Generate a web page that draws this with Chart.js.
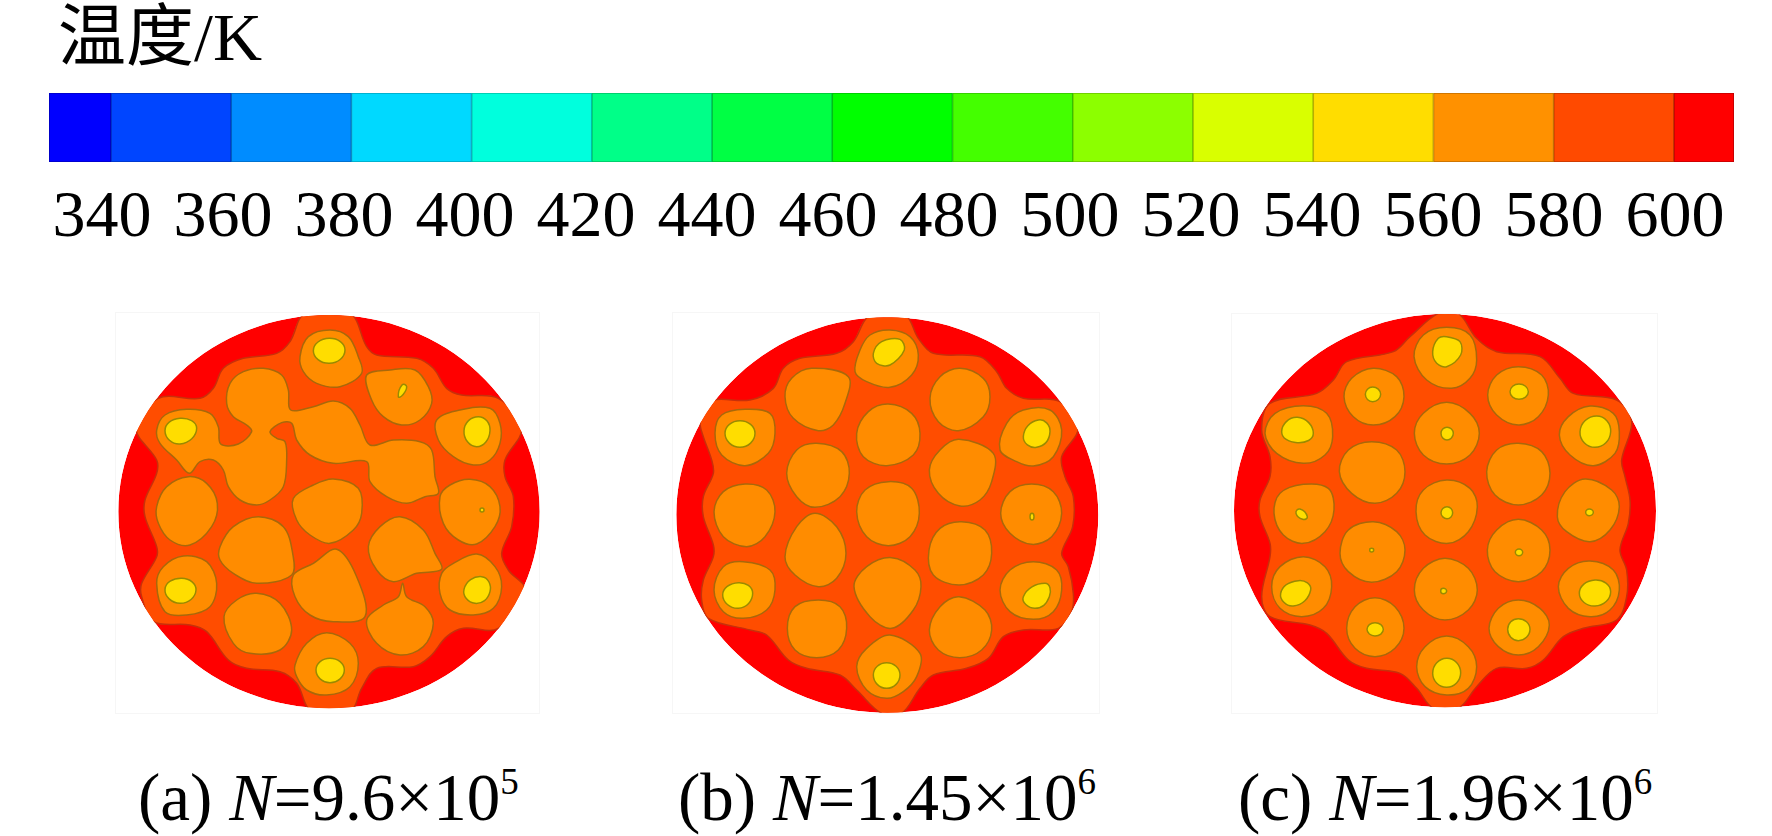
<!DOCTYPE html>
<html>
<head>
<meta charset="utf-8">
<title>温度/K</title>
<script src="https://cdn.jsdelivr.net/npm/chart.js@4"></script>
<style>
  html, body { margin: 0; background: #fff; overflow: hidden; }
  body { width: 1772px; height: 836px; position: relative; }
  canvas { position: absolute; filter: blur(0.7px); }
  .frame { position: absolute; border: 1px solid #f6f6f6; box-sizing: border-box; }
  .txt { position: absolute; font-family: "Liberation Serif", "Noto Sans CJK SC", serif; line-height: 64px; white-space: nowrap; color: #000; }
  .cap { font-size: 67px; top: 765px; }
  .cap sup { font-size: 37px; line-height: 0; vertical-align: 26px; }
  #title { left: 58px; top: 5px; font-size: 68px; }
  #capA { left: 138px; }
  #capB { left: 678px; }
  #capC { left: 1238px; }
</style>
</head>
<body>
<div class="txt" id="title">温度/K</div>
<div class="frame" style="left:115px;top:312px;width:425px;height:402px"></div>
<div class="frame" style="left:672px;top:312px;width:428px;height:402px"></div>
<div class="frame" style="left:1231px;top:313px;width:427px;height:401px"></div>
<canvas id="bar" width="1772" height="180" style="left:0;top:80px"></canvas>
<canvas id="panelA" width="460" height="420" style="left:100px;top:300px"></canvas>
<canvas id="panelB" width="460" height="420" style="left:660px;top:300px"></canvas>
<canvas id="panelC" width="460" height="420" style="left:1220px;top:300px"></canvas>
<div class="txt cap" id="capA">(a) <i>N</i>=9.6×10<sup>5</sup></div>
<div class="txt cap" id="capB">(b) <i>N</i>=1.45×10<sup>6</sup></div>
<div class="txt cap" id="capC">(c) <i>N</i>=1.96×10<sup>6</sup></div>
<script>
// colour bar
const tickValues = [340, 360, 380, 400, 420, 440, 460, 480, 500, 520, 540, 560, 580, 600];
const binEdges = [329.7, 340, 360, 380, 400, 420, 440, 460, 480, 500, 520, 540, 560, 580, 600, 610];
const binColors = ['#0000ff', '#0045ff', '#008cff', '#00d9ff', '#00ffdd', '#00ff88', '#00ff44', '#00ff00',
  '#44ff00', '#8cff00', '#d9ff00', '#ffdd00', '#ff9100', '#ff4a00', '#ff0000'];
const binLines = ['#0000c0', '#0034c0', '#006ac0', '#00a4c0', '#00c0a6', '#00c066', '#00c034', '#00c000',
  '#34c000', '#6ac000', '#a4c000', '#c0a600', '#c06e00', '#c03800', '#c00000'];

// panel contours, units are 1/3 px of the panel
const discA = [[687,45],[929,90],[1134,218],[1271,409],[1319,635],[1271,861],[1134,1052],[929,1180],[687,1225],[445,1180],[240,1052],[103,861],[55,635],[103,409],[240,218],[445,90]];
const starA = [[615,40],[750,40],[800,140],[830,165],[950,175],[1000,205],[1040,265],[1085,285],[1195,295],[1265,385],[1215,480],[1215,530],[1240,590],[1235,680],[1205,760],[1225,810],[1275,870],[1195,985],[1090,985],[1040,1010],[990,1070],[940,1100],[830,1105],[785,1165],[750,1235],[635,1235],[590,1150],[540,1115],[440,1105],[385,1080],[320,995],[270,975],[160,965],[125,890],[125,850],[170,770],[170,740],[135,650],[135,600],[170,520],[170,480],[108,385],[175,295],[300,295],[340,265],[370,205],[430,175],[530,160],[570,125]];
const rodsA = [
  [[170,390],[195,345],[260,328],[330,340],[355,380],[362,432],[415,432],[455,395],[440,375],[400,350],[380,310],[390,250],[430,215],[490,205],[545,225],[565,270],[572,330],[640,320],[700,303],[750,325],[780,375],[810,435],[880,420],[960,425],[995,450],[1005,530],[1015,580],[975,590],[920,610],[860,590],[810,545],[800,485],[700,490],[630,465],[590,420],[575,370],[545,368],[510,395],[530,415],[555,425],[560,480],[550,560],[510,600],[470,615],[420,600],[385,560],[370,510],[340,480],[300,485],[268,520],[230,480],[180,430]],
  [[600,170],[625,110],[690,90],[745,110],[775,170],[785,220],[720,260],[650,250],[610,215]],
  [[800,225],[870,210],[945,210],[985,260],[995,310],[960,360],[905,375],[850,350],[815,300]],
  [[1010,360],[1080,330],[1170,325],[1200,370],[1200,430],[1170,480],[1120,495],[1060,470],[1015,420]],
  [[1020,590],[1050,555],[1110,538],[1170,560],[1200,620],[1185,680],[1130,732],[1075,720],[1030,670]],
  [[170,620],[200,560],[265,530],[320,550],[352,610],[335,680],[270,735],[210,720],[175,670]],
  [[580,595],[640,555],[700,537],[775,565],[785,640],[760,690],[690,730],[630,705],[590,660]],
  [[360,740],[400,680],[475,650],[550,680],[578,760],[575,825],[470,850],[400,820],[360,780]],
  [[805,740],[840,680],[900,650],[970,690],[1005,760],[1025,808],[950,820],[880,845],[830,810]],
  [[580,825],[640,790],[710,748],[770,830],[795,950],[700,965],[630,945],[585,890]],
  [[170,850],[190,800],[250,768],[320,785],[350,850],[330,920],[260,945],[195,935]],
  [[1025,820],[1060,790],[1130,762],[1185,800],[1205,860],[1180,925],[1120,945],[1050,930],[1020,880]],
  [[372,950],[410,900],[470,880],[540,910],[575,990],[540,1050],[450,1060],[400,1030]],
  [[800,960],[850,915],[895,890],[908,850],[920,890],[975,920],[1000,970],[970,1040],[900,1065],[830,1030]],
  [[585,1095],[620,1030],[680,998],[750,1030],[775,1090],[750,1160],[680,1185],[620,1170],[590,1130]]
];
const coresA = [
  [[640,152],[688,115],[735,150],[688,190]],
  [[195,392],[240,355],[290,385],[240,432]],
  [[1092,392],[1135,350],[1170,392],[1130,440]],
  [[195,868],[245,835],[288,870],[240,910]],
  [[1092,868],[1145,830],[1170,875],[1125,910]],
  [[648,1110],[690,1075],[733,1110],[690,1148]],
  [[895,290],[906,255],[920,260],[908,285]],
  [[1140,630],[1146,624],[1152,630],[1146,636]]
];

const discB = [[682,52],[924,97],[1130,226],[1267,418],[1315,645],[1267,872],[1130,1064],[924,1193],[682,1238],[440,1193],[234,1064],[97,872],[49,645],[97,418],[234,226],[440,97]];
const starB = [[630,45],[735,45],[775,115],[820,160],[960,170],[1010,215],[1040,265],[1090,295],[1200,305],[1255,385],[1205,470],[1215,530],[1240,590],[1238,680],[1205,760],[1225,800],[1240,880],[1235,935],[1195,985],[1090,990],[1030,1010],[985,1075],[920,1105],[820,1125],[780,1165],[725,1240],[665,1240],[590,1170],[540,1125],[440,1105],[385,1080],[320,1005],[270,990],[145,955],[125,900],[130,840],[160,770],[160,735],[130,650],[130,590],[160,520],[155,480],[130,410],[120,370],[130,330],[160,300],[270,300],[340,265],[370,205],[420,175],[530,160],[580,125]];
const rodsB = [
  [[585,215],[600,150],[630,105],[690,90],[750,110],[775,165],[755,225],[690,262],[620,245]],
  [[375,290],[395,235],[455,205],[565,230],[555,310],[520,375],[475,392],[400,355]],
  [[810,295],[840,230],[900,205],[970,235],[990,290],[970,350],[895,392],[835,365]],
  [[590,400],[625,335],[685,312],[755,340],[780,400],[760,465],[680,497],[610,470]],
  [[165,400],[185,345],[255,328],[330,340],[345,400],[325,460],[255,497],[185,465]],
  [[1020,450],[1040,370],[1090,330],[1170,330],[1205,390],[1180,470],[1120,498],[1070,485]],
  [[380,520],[410,450],[470,430],[545,455],[568,520],[540,590],[465,622],[410,590]],
  [[808,510],[840,450],[897,418],[1000,460],[995,545],[960,600],[900,618],[835,580]],
  [[162,635],[190,575],[255,552],[320,570],[345,635],[315,710],[260,740],[190,710]],
  [[590,635],[615,570],[685,545],[755,565],[778,640],[750,710],[685,737],[620,710]],
  [[1022,640],[1050,575],[1115,552],[1180,575],[1205,640],[1175,710],[1115,733],[1050,700]],
  [[375,770],[410,680],[465,640],[530,680],[558,760],[530,835],[475,860],[405,825]],
  [[807,750],[840,685],[905,665],[975,690],[995,760],[970,825],[897,855],[820,825]],
  [[582,860],[620,800],[695,773],[765,810],[783,860],[760,930],[695,985],[630,950]],
  [[162,870],[190,800],[250,785],[330,810],[345,870],[320,930],[250,955],[190,935]],
  [[1020,870],[1050,810],[1120,785],[1190,810],[1205,870],[1180,935],[1120,958],[1050,935]],
  [[382,985],[405,920],[475,900],[540,920],[560,985],[535,1050],[470,1073],[405,1050]],
  [[808,990],[840,920],[897,890],[975,930],[995,990],[965,1050],[900,1073],[835,1050]],
  [[590,1100],[620,1045],[690,1005],[780,1060],[770,1130],[730,1175],[680,1195],[620,1170]]
];
const coresB = [
  [[640,160],[665,125],[720,118],[733,150],[690,195],[650,190]],
  [[195,400],[240,362],[285,400],[240,442]],
  [[1090,410],[1135,360],[1170,395],[1130,442]],
  [[188,885],[235,848],[278,880],[235,925]],
  [[1090,890],[1155,850],[1168,890],[1125,925]],
  [[640,1125],[680,1088],[720,1125],[680,1165]],
  [[1110,650],[1116,640],[1122,650],[1116,660]]
];

const discC = [[675,42],[917,87],[1123,215],[1260,406],[1308,632],[1260,858],[1123,1049],[917,1177],[675,1222],[433,1177],[227,1049],[90,858],[42,632],[90,406],[227,215],[433,87]];
const starC = [[655,40],[715,40],[770,115],[830,155],[960,170],[1020,235],[1060,280],[1190,300],[1235,365],[1205,480],[1215,530],[1230,600],[1225,670],[1200,750],[1220,810],[1220,890],[1190,960],[1090,985],[1030,1010],[970,1080],[920,1105],[830,1105],[770,1160],[715,1225],[640,1225],[590,1165],[540,1120],[440,1105],[385,1080],[320,1000],[270,975],[150,950],[125,890],[150,770],[150,730],[120,650],[120,600],[150,530],[150,470],[125,390],[150,310],[290,280],[340,240],[380,185],[520,155],[570,110]];
const rodsC = [
  [[582,170],[610,105],[680,82],[750,105],[770,180],[750,235],[695,265],[620,240]],
  [[372,290],[395,235],[460,205],[530,230],[552,290],[525,350],[460,375],[400,350]],
  [[803,285],[830,225],[895,200],[965,225],[985,285],[955,350],[895,375],[830,345]],
  [[583,400],[610,340],[680,307],[750,340],[778,400],[750,465],[680,492],[610,465]],
  [[135,400],[165,340],[250,317],[320,340],[338,410],[315,465],[250,490],[170,460]],
  [[1018,405],[1045,350],[1110,318],[1180,340],[1198,395],[1185,460],[1120,497],[1050,465]],
  [[358,515],[385,450],[455,425],[530,450],[555,515],[530,580],[465,610],[395,580]],
  [[800,515],[830,450],[895,430],[965,455],[990,520],[965,585],[895,615],[825,585]],
  [[162,640],[180,580],[250,553],[325,565],[342,630],[315,695],[250,730],[190,705]],
  [[588,635],[610,570],[680,540],[750,565],[772,620],[745,695],[685,730],[615,705]],
  [[1012,650],[1035,575],[1095,537],[1175,570],[1198,620],[1170,690],[1110,725],[1040,695]],
  [[360,760],[385,690],[460,665],[530,695],[555,750],[530,815],[455,847],[385,815]],
  [[802,750],[830,690],[895,658],[965,690],[990,750],[965,815],[895,845],[825,815]],
  [[583,870],[610,805],[675,775],[745,805],[772,870],[745,930],[675,960],[610,930]],
  [[155,860],[180,800],[250,770],[315,800],[335,860],[310,925],[245,950],[180,925]],
  [[1015,860],[1045,805],[1110,783],[1180,810],[1198,870],[1170,930],[1110,950],[1045,925]],
  [[380,985],[405,920],[465,893],[525,920],[552,985],[525,1045],[465,1070],[405,1045]],
  [[807,985],[835,925],[895,900],[960,925],[988,975],[955,1040],[895,1065],[835,1040]],
  [[590,1100],[615,1040],[680,1008],[745,1040],[770,1100],[745,1165],[680,1185],[615,1160]]
];
const coresC = [
  [[638,155],[655,115],[680,110],[720,125],[722,165],[680,200],[650,190]],
  [[185,395],[232,352],[280,400],[232,428]],
  [[1080,395],[1130,348],[1172,395],[1125,442]],
  [[436,283],[458,261],[482,283],[458,305]],
  [[870,275],[897,252],[925,275],[897,298]],
  [[663,400],[681,382],[700,400],[681,420]],
  [[228,640],[240,627],[262,650],[248,658]],
  [[663,638],[681,620],[698,638],[681,656]],
  [[1097,637],[1108,627],[1120,637],[1108,647]],
  [[449,750],[455,745],[461,750],[455,756]],
  [[886,757],[897,747],[908,757],[897,767]],
  [[662,873],[670,865],[680,873],[670,881]],
  [[182,880],[235,842],[272,870],[220,918]],
  [[1078,880],[1125,840],[1172,875],[1125,918]],
  [[441,988],[465,968],[490,988],[465,1008]],
  [[863,988],[895,956],[930,988],[895,1022]],
  [[638,1120],[680,1075],[722,1118],[680,1162]]
];

const redColor = '#ff0000', darkOrange = '#ff4d00', orange = '#ff8c00', yellow = '#ffdd00';

new Chart(document.getElementById('bar'), {
  type: 'bar',
  data: {
    labels: ['T'],
    datasets: binColors.map((c, i) => ({
      data: [[binEdges[i], binEdges[i + 1]]],
      backgroundColor: c,
      borderColor: binLines[i],
      borderWidth: 1.2,
      borderSkipped: false,
      xAxisID: 'x',
      grouped: false,
      barPercentage: 1,
      categoryPercentage: 1
    }))
  },
  options: {
    indexAxis: 'y',
    responsive: false,
    animation: false,
    layout: { padding: { left: 49, right: 38, top: 13 } },
    plugins: { legend: { display: false }, tooltip: { enabled: false } },
    scales: {
      y: { display: false },
      x: { display: false, min: binEdges[0], max: binEdges[binEdges.length - 1] },
      x2: {
        position: 'bottom', min: 331.24, max: 609.75,
        grid: { display: false }, border: { display: false },
        afterBuildTicks: s => { s.ticks = tickValues.map(v => ({ value: v })); },
        afterFit: s => { s.height = 98; },
        ticks: { autoSkip: false, maxRotation: 0, color: '#000', padding: 9, font: { family: 'Liberation Serif', size: 66 } }
      }
    }
  }
});

function closed(pts) {
  return [pts[pts.length - 1], ...pts, pts[0], pts[1]];
}

function shape(pts, fillColor, lineColor) {
  const last = pts.length + 2;
  return {
    data: closed(pts),
    showLine: true,
    fill: 'shape',
    backgroundColor: fillColor,
    borderColor: lineColor || fillColor,
    borderWidth: lineColor ? 1.5 : 0,
    // the wrapped ends only keep the curve round at the seam, so they are not stroked
    segment: { borderColor: ctx => (ctx.p0DataIndex === 0 || ctx.p1DataIndex === last) ? 'rgba(0,0,0,0)' : undefined },
    tension: pts.length <= 4 ? 0.55 : 0.35,
    pointRadius: 0
  };
}

// everything stays inside the red disc, which is always the last dataset
const clipToDisc = {
  id: 'clipToDisc',
  beforeDatasetsDraw(chart) {
    const ctx = chart.ctx;
    const line = chart.getDatasetMeta(chart.data.datasets.length - 1).dataset;
    ctx.save();
    ctx.beginPath();
    line.path(ctx);
    ctx.clip();
  },
  afterDatasetsDraw(chart) {
    chart.ctx.restore();
  }
};

function drawPanel(id, disc, star, rods, cores) {
  // first dataset is painted last
  const sets = [];
  cores.forEach(p => sets.push(shape(p, yellow, '#9a8a00')));
  rods.forEach(p => sets.push(shape(p, orange, '#a8680a')));
  sets.push(shape(star, darkOrange, '#c8300a'));
  sets.push(shape(disc, redColor, null));
  new Chart(document.getElementById(id), {
    type: 'scatter',
    data: { datasets: sets },
    plugins: [clipToDisc],
    options: {
      responsive: false,
      animation: false,
      plugins: { legend: { display: false }, tooltip: { enabled: false } },
      scales: {
        x: { display: false, min: 0, max: 1380 },
        y: { display: false, min: 0, max: 1260, reverse: true }
      }
    }
  });
}

drawPanel('panelA', discA, starA, rodsA, coresA);
drawPanel('panelB', discB, starB, rodsB, coresB);
drawPanel('panelC', discC, starC, rodsC, coresC);
</script>
</body>
</html>
